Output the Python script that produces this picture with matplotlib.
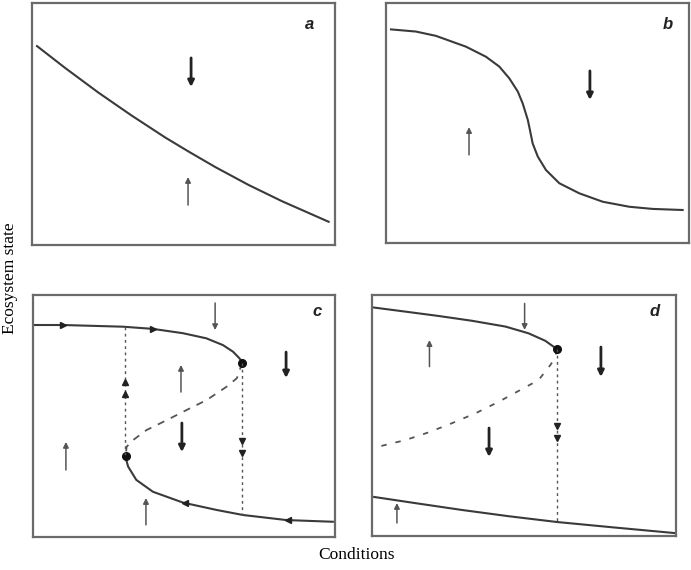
import numpy as np
import matplotlib
matplotlib.use("Agg")
import matplotlib.pyplot as plt

# curve points, as fractions of each panel (x right, y up)
a_x = [0.0165, 0.110, 0.220, 0.330, 0.440, 0.517, 0.605, 0.715, 0.825, 0.979]
a_y = [0.822, 0.731, 0.629, 0.534, 0.444, 0.386, 0.322, 0.248, 0.181, 0.096]

b_x = [0.0165, 0.099, 0.165, 0.264, 0.330, 0.374, 0.407, 0.435, 0.451, 0.468, 0.475,
       0.484, 0.501, 0.528, 0.572, 0.638, 0.715, 0.803, 0.880, 0.979]
b_y = [0.890, 0.881, 0.863, 0.818, 0.776, 0.735, 0.686, 0.631, 0.582, 0.513, 0.471,
       0.415, 0.360, 0.304, 0.249, 0.207, 0.172, 0.151, 0.142, 0.1375]

c_upper_x = [0.000, 0.099, 0.298, 0.397, 0.497, 0.574, 0.629, 0.662, 0.684, 0.693]
c_upper_y = [0.876, 0.876, 0.869, 0.860, 0.842, 0.821, 0.793, 0.766, 0.738, 0.720]
c_mid_x = [0.693, 0.675, 0.641, 0.575, 0.509, 0.443, 0.376, 0.332, 0.310, 0.307]
c_mid_y = [0.720, 0.656, 0.621, 0.566, 0.525, 0.483, 0.442, 0.401, 0.373, 0.335]
c_lower_x = [0.307, 0.309, 0.315, 0.342, 0.397, 0.497, 0.607, 0.695, 0.839, 0.993]
c_lower_y = [0.335, 0.318, 0.291, 0.236, 0.187, 0.142, 0.112, 0.091, 0.070, 0.063]
c_folds_x = [0.693, 0.307]
c_folds_y = [0.720, 0.335]

d_upper_x = [0.000, 0.110, 0.219, 0.329, 0.439, 0.515, 0.570, 0.609]
d_upper_y = [0.949, 0.931, 0.913, 0.893, 0.869, 0.841, 0.810, 0.775]
d_mid_x = [0.609, 0.601, 0.587, 0.548, 0.488, 0.417, 0.340, 0.263, 0.186, 0.110, 0.022]
d_mid_y = [0.775, 0.737, 0.710, 0.647, 0.606, 0.557, 0.509, 0.468, 0.430, 0.398, 0.371]
d_lower_x = [0.007, 0.150, 0.296, 0.450, 0.609, 0.800, 0.997]
d_lower_y = [0.162, 0.135, 0.108, 0.082, 0.058, 0.035, 0.012]
d_fold_x = [0.609]
d_fold_y = [0.775]

# direction arrows: x, y_tail, y_head, thick?
a_arrows = [(0.525, 0.773, 0.653, True), (0.515, 0.165, 0.281, False)]
b_arrows = [(0.673, 0.717, 0.596, True), (0.274, 0.367, 0.483, False)]
c_arrows = [(0.603, 0.967, 0.855, False), (0.838, 0.764, 0.657, True),
            (0.490, 0.599, 0.711, False), (0.493, 0.471, 0.351, True),
            (0.109, 0.277, 0.393, False), (0.374, 0.050, 0.161, False)]
d_arrows = [(0.502, 0.965, 0.855, False), (0.189, 0.703, 0.813, False),
            (0.753, 0.784, 0.660, True), (0.385, 0.448, 0.328, True),
            (0.082, 0.054, 0.137, False)]

# jump paths (vertical dotted) and their little heads
c_jumps = [(0.304, 0.869, 0.335), (0.693, 0.720, 0.091)]
c_heads = [(0.099, 0.876, ">"), (0.397, 0.860, ">"), (0.502, 0.142, "<"), (0.844, 0.070, "<"),
           (0.304, 0.640, "^"), (0.304, 0.590, "^"), (0.693, 0.397, "v"), (0.693, 0.346, "v")]
d_jumps = [(0.609, 0.775, 0.058)]
d_heads = [(0.609, 0.456, "v"), (0.609, 0.405, "v")]

LINE = "#3a3a3a"
FRAME = "#6a6a6a"

W, H = 691, 570
fig = plt.figure(figsize=(W / 100, H / 100), dpi=100)


def panel(px0, py0, px1, py1, letter, lx, ly):
    ax = fig.add_axes([px0 / W, 1 - py1 / H, (px1 - px0) / W, (py1 - py0) / H])
    ax.set_xlim(0, 1)
    ax.set_ylim(0, 1)
    ax.set_xticks([])
    ax.set_yticks([])
    for s in ax.spines.values():
        s.set_color(FRAME)
        s.set_linewidth(1.6)
    ax.text(lx, ly, letter, transform=ax.transAxes, fontsize=12, fontweight="bold",
            fontstyle="italic", family="Liberation Sans", ha="center", va="center", color="#222")
    return ax


def draw_arrows(ax, arrows):
    for x, y0, y1, thick in arrows:
        ax.annotate("", xy=(x, y1), xytext=(x, y0),
                    arrowprops=dict(arrowstyle="-|>", color="#222" if thick else "#555",
                                    lw=2.0 if thick else 1.1,
                                    mutation_scale=9 if thick else 8,
                                    shrinkA=0, shrinkB=0))


def draw_jumps(ax, jumps, heads):
    for x, y0, y1 in jumps:
        ax.plot([x, x], [y0, y1], color="#555", lw=1.0, ls=(0, (2, 2.5)))
    for x, y, m in heads:
        ax.plot(x, y, marker=m, color="#222", ms=4.5, ls="none")


ax_a = panel(32, 3, 335, 245, "a", 0.915, 0.91)
ax_a.plot(a_x, a_y, color=LINE, lw=1.5)
draw_arrows(ax_a, a_arrows)

ax_b = panel(386, 3, 689, 243, "b", 0.93, 0.91)
ax_b.plot(b_x, b_y, color=LINE, lw=1.5)
draw_arrows(ax_b, b_arrows)

ax_c = panel(33, 295, 335, 537, "c", 0.94, 0.93)
ax_c.plot(c_upper_x, c_upper_y, color=LINE, lw=1.5)
ax_c.plot(c_mid_x, c_mid_y, color="#555", lw=1.3, ls=(0, (4, 4)))
ax_c.plot(c_lower_x, c_lower_y, color=LINE, lw=1.5)
ax_c.plot(c_folds_x, c_folds_y, "o", color="#111", ms=5.5)
draw_jumps(ax_c, c_jumps, c_heads)
draw_arrows(ax_c, c_arrows)

ax_d = panel(372, 295, 676, 536, "d", 0.93, 0.93)
ax_d.plot(d_upper_x, d_upper_y, color=LINE, lw=1.5)
ax_d.plot(d_mid_x, d_mid_y, color="#555", lw=1.3, ls=(0, (3, 5)))
ax_d.plot(d_lower_x, d_lower_y, color=LINE, lw=1.5)
ax_d.plot(d_fold_x, d_fold_y, "o", color="#111", ms=5.5)
draw_jumps(ax_d, d_jumps, d_heads)
draw_arrows(ax_d, d_arrows)

fig.text(10 / W, 1 - 278 / H, "Ecosystem state", rotation=90, ha="center", va="center",
         family="Liberation Serif", fontsize=12.5)
fig.text(357 / W, 1 - 555 / H, "Conditions", ha="center", va="center",
         family="Liberation Serif", fontsize=12.5)

fig.savefig("out.png", dpi=100)
